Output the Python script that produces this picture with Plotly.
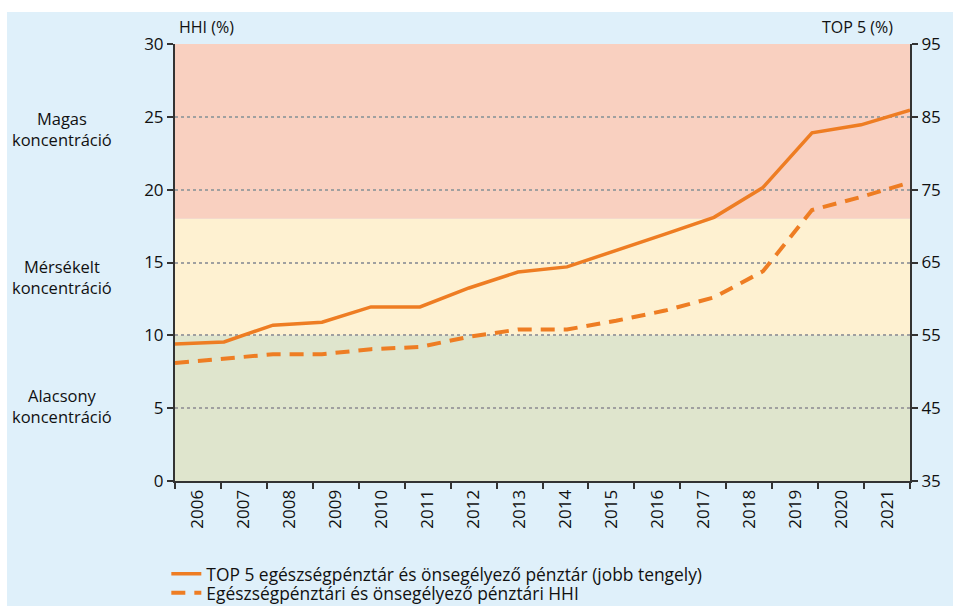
import plotly.graph_objects as go

# ---- data ----
years = list(range(2006, 2022))
year_labels = [str(y) for y in years]
top5 = [53.8, 54.1, 56.4, 56.8, 58.9, 58.9, 61.5, 63.7, 64.4, 66.6, 68.9, 71.2, 75.3, 82.8, 83.9, 85.9]
hhi = [8.1, 8.4, 8.7, 8.7, 9.05, 9.2, 9.9, 10.4, 10.4, 11.0, 11.7, 12.6, 14.4, 18.6, 19.5, 20.5]
band_edges = [0, 10, 18, 30]
band_colors = ["#dfe5cd", "#fef1d1", "#f9d0c0"]
band_labels = ["Alacsony<br>koncentráció", "Mérsékelt<br>koncentráció", "Magas<br>koncentráció"]
name_top5 = "TOP 5 egészségpénztár és önsegélyező pénztár (jobb tengely)"
name_hhi = "Egészségpénztári és önsegélyező pénztári HHI"

FONT = "Open Sans"
ORANGE = "#ee7d23"
AX = "#333333"

fig = go.Figure()
fig.add_trace(go.Scatter(x=years, y=top5, yaxis="y2", xaxis="x", mode="lines", name=name_top5,
                         line=dict(color=ORANGE, width=3.5), legend="legend"))
fig.add_trace(go.Scatter(x=years, y=hhi, yaxis="y", xaxis="x", mode="lines", name=name_hhi,
                         line=dict(color=ORANGE, width=4, dash="14px,9px"), legend="legend2"))
# invisible trace carrying the category axis for the year labels
fig.add_trace(go.Scatter(x=year_labels, y=hhi, xaxis="x2", yaxis="y", mode="markers",
                         marker=dict(opacity=0), showlegend=False, hoverinfo="skip"))

shapes = [dict(type="rect", xref="paper", yref="paper", x0=-0.2286, x1=1.07, y0=-0.3, y1=1.0732,
               fillcolor="#dff0fa", line=dict(width=0), layer="below")]
for i, c in enumerate(band_colors):
    shapes.append(dict(type="rect", xref="x domain", yref="y", x0=0, x1=1,
                       y0=band_edges[i], y1=band_edges[i + 1], fillcolor=c,
                       line=dict(width=0), layer="below"))

annotations = []
label_y = [0.1716, 0.4668, 0.8055]
for lab, yy in zip(band_labels, label_y):
    annotations.append(dict(text=lab, xref="paper", yref="paper", x=-0.1537, y=yy,
                            xanchor="center", yanchor="middle", showarrow=False,
                            font=dict(size=16.5, color="#111")))
annotations.append(dict(text="HHI (%)", xref="paper", yref="paper", x=0.0435, y=1.039,
                        xanchor="center", yanchor="middle", showarrow=False,
                        font=dict(size=16, color="#111")))
annotations.append(dict(text="TOP 5 (%)", xref="paper", yref="paper", x=0.929, y=1.039,
                        xanchor="center", yanchor="middle", showarrow=False,
                        font=dict(size=16, color="#111")))

leg_common = dict(orientation="v", xanchor="left", yanchor="top",
                  bgcolor="rgba(0,0,0,0)", font=dict(size=17.4), tracegroupgap=0)

fig.update_layout(
    width=953, height=606,
    margin=dict(l=175, r=43, t=44, b=125, autoexpand=False),
    paper_bgcolor="white",
    plot_bgcolor="rgba(0,0,0,0)",
    font=dict(family=FONT, size=16, color="#111"),
    shapes=shapes,
    annotations=annotations,
    showlegend=True,
    legend=dict(x=-0.0118, y=-0.1714, **leg_common),
    legend2=dict(x=-0.0118, y=-0.2151, **leg_common),
    xaxis=dict(range=[2006, 2021], showticklabels=False, ticks="", showline=False,
               showgrid=False, zeroline=False),
    xaxis2=dict(type="category", categoryarray=year_labels, range=[-0.5, 15.5],
                overlaying="x", side="bottom", anchor="y",
                showline=True, linecolor=AX, linewidth=2, ticks="outside",
                tickson="boundaries", ticklen=6, tickwidth=2, tickcolor=AX,
                tickangle=-90, showgrid=False, zeroline=False, tickfont=dict(size=17)),
    yaxis=dict(range=[0, 30], dtick=5, tick0=0, showgrid=True, gridcolor="#a0a0a0",
               griddash="dot", gridwidth=1.5, showline=True, linecolor=AX, linewidth=2,
               ticks="outside", ticklen=6, tickwidth=2, tickcolor=AX, zeroline=False,
               tickfont=dict(size=17)),
    yaxis2=dict(range=[35, 95], dtick=10, tick0=35, overlaying="y", side="right",
                showgrid=False, showline=True, linecolor=AX, linewidth=2,
                ticks="outside", ticklen=6, tickwidth=2, tickcolor=AX, zeroline=False,
                tickfont=dict(size=17)),
)

fig.write_html("out.html", config={"displayModeBar": False},
               post_script="document.body.style.margin='0';")
